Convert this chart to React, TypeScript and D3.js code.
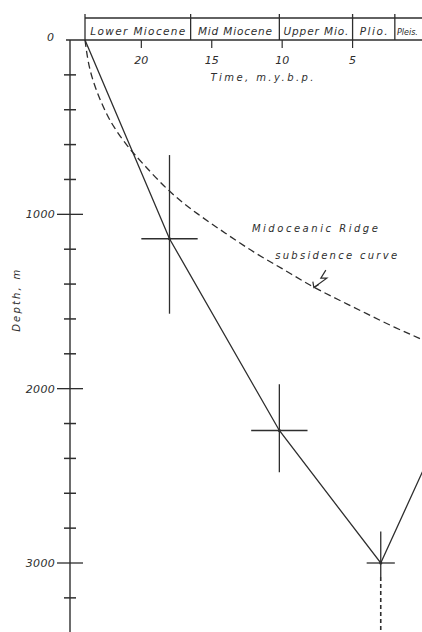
import React from "react";
import * as d3 from "d3";

// ---- data ----
const periodNames = ["Lower Miocene", "Mid Miocene", "Upper Mio.", "Plio.", "Pleis."];
const periodStarts = [24, 16.5, 10.2, 5, 2];
const periodEnds = [16.5, 10.2, 5, 2, 0];

const timeTicks = [20, 15, 10, 5];
const depthMajorTicks = [0, 1000, 2000, 3000];
const depthMinorTicks = [200, 400, 600, 800, 1200, 1400, 1600, 1800, 2200, 2400, 2600, 2800, 3200, 3400];

// observed subsidence path (solid line)
const pathTimes = [24, 18, 10.2, 3, 0];
const pathDepths = [0, 1140, 2240, 3000, 2470];

// crosshair points with error bars
const ptTimes = [18, 10.2, 3];
const ptDepths = [1140, 2240, 3000];
const ptTimeErr = [2, 2, 1];
const ptDepthLow = [660, 1975, 2820];
const ptDepthHigh = [1570, 2480, 3080];
const ptDashedTo = [null, null, 3420];

// mid-oceanic ridge subsidence curve (dashed)
const ridgeTimes = [24, 23.8, 23.5, 23, 22.5, 22, 21, 20, 18, 16, 14, 12, 10, 8, 6, 4, 2, 0];
const ridgeDepths = [0, 120, 220, 330, 420, 495, 610, 700, 875, 1000, 1110, 1220, 1310, 1410, 1490, 1570, 1650, 1720];

const W = 422;
const H = 632;
const INK = "#2e2e2e";
const FONT = "'DejaVu Sans', 'Liberation Sans', sans-serif";

export default function App() {
  const x = d3.scaleLinear().domain([24, 0]).range([85, 423]);
  const y = d3.scaleLinear().domain([0, 3000]).range([40, 563]);
  const axisX = 70;

  const solid = d3
    .line<number>()
    .x((_, i) => x(pathTimes[i]))
    .y((_, i) => y(pathDepths[i]))(pathTimes);

  const ridge = d3
    .line<number>()
    .x((_, i) => x(ridgeTimes[i]))
    .y((_, i) => y(ridgeDepths[i]))
    .curve(d3.curveBasis)(ridgeTimes);

  const txt = {
    fontFamily: FONT,
    fontStyle: "italic" as const,
    fill: INK,
  };

  // annotation anchors (data space)
  const a1x = x(12.15), a1y = y(1100);
  const a2x = x(10.5), a2y = y(1255);
  const arrowTop = { x: x(6.9), y: y(1320) };
  const arrowTip = { x: x(7.75), y: y(1420) };

  const periodWidths = [95, 74, 65, 28, 21];
  const periodShift = [0, 0, 0, 0, -1];

  return (
    <svg
      width={W}
      height={H}
      style={{ position: "absolute", left: 0, top: 0, background: "#fff" }}
    >
      <rect x={0} y={0} width={W} height={H} fill="#fff" />

      {/* period box */}
      <line x1={x(24)} x2={W} y1={18} y2={18} stroke={INK} strokeWidth={1.3} />
      {periodStarts.map((s, i) => (
        <line key={"pd" + i} x1={x(s)} x2={x(s)} y1={14} y2={40} stroke={INK} strokeWidth={1.3} />
      ))}
      {periodNames.map((n, i) => {
        const cx = (x(periodStarts[i]) + Math.min(x(periodEnds[i]), W)) / 2;
        return (
          <text
            key={"pn" + i}
            x={cx + periodShift[i]}
            y={35}
            textAnchor="middle"
            fontSize={i === 4 ? 9 : 10.5}
            textLength={periodWidths[i]}
            lengthAdjust={i === 4 ? "spacingAndGlyphs" : "spacing"}
            {...txt}
          >
            {n}
          </text>
        );
      })}

      {/* time axis (top) */}
      <line x1={66} x2={W} y1={40} y2={40} stroke={INK} strokeWidth={1.4} />
      {timeTicks.map((t) => (
        <g key={"tt" + t}>
          <line x1={x(t)} x2={x(t)} y1={40} y2={48} stroke={INK} strokeWidth={1.2} />
          <text x={x(t)} y={64} textAnchor="middle" fontSize={11} {...txt}>
            {t}
          </text>
        </g>
      ))}
      <text x={262} y={81} textAnchor="middle" fontSize={10} textLength={103} lengthAdjust="spacing" {...txt}>
        Time, m.y.b.p.
      </text>

      {/* depth axis (left) */}
      <line x1={axisX} x2={axisX} y1={40} y2={H} stroke={INK} strokeWidth={1.4} />
      {depthMinorTicks.map((d) => (
        <line key={"mn" + d} x1={axisX - 6} x2={axisX + 6} y1={y(d)} y2={y(d)} stroke={INK} strokeWidth={1.5} />
      ))}
      {depthMajorTicks.map((d) => (
        <g key={"mj" + d}>
          {d > 0 && (
            <line x1={axisX - 13} x2={axisX + 13} y1={y(d)} y2={y(d)} stroke={INK} strokeWidth={1.3} />
          )}
          <text
            x={d === 0 ? 54 : 55}
            y={d === 0 ? y(d) + 1 : y(d) + 4}
            textAnchor="end"
            fontSize={11}
            letterSpacing={d === 0 ? 0 : 0.3}
            {...txt}
          >
            {d}
          </text>
        </g>
      ))}
      <text
        transform={`translate(20, ${y(1490)}) rotate(-90)`}
        textAnchor="middle"
        fontSize={10}
        letterSpacing={2.2}
        {...txt}
      >
        Depth, m
      </text>

      {/* ridge curve */}
      <path d={ridge ?? ""} fill="none" stroke={INK} strokeWidth={1.3} strokeDasharray="7,4" />

      {/* solid path */}
      <path d={solid ?? ""} fill="none" stroke={INK} strokeWidth={1.3} />

      {/* crosshairs */}
      {ptTimes.map((t, i) => (
        <g key={"pt" + i}>
          <line
            x1={x(t + ptTimeErr[i])}
            x2={x(t - ptTimeErr[i])}
            y1={y(ptDepths[i])}
            y2={y(ptDepths[i])}
            stroke={INK}
            strokeWidth={1.3}
          />
          <line
            x1={x(t)}
            x2={x(t)}
            y1={y(ptDepthLow[i])}
            y2={y(ptDepthHigh[i])}
            stroke={INK}
            strokeWidth={1.3}
          />
          {ptDashedTo[i] !== null && (
            <line
              x1={x(t)}
              x2={x(t)}
              y1={y(ptDepthHigh[i])}
              y2={y(ptDashedTo[i] as number)}
              stroke={INK}
              strokeWidth={1.6}
              strokeDasharray="4,3"
            />
          )}
          <circle cx={x(t)} cy={y(ptDepths[i])} r={1.6} fill={INK} />
        </g>
      ))}

      {/* annotation */}
      <text x={a1x} y={a1y} fontSize={10} textLength={126} lengthAdjust="spacing" {...txt}>
        Midoceanic Ridge
      </text>
      <text x={a2x} y={a2y} fontSize={10} textLength={122} lengthAdjust="spacing" {...txt}>
        subsidence curve
      </text>
      <path
        d={`M${arrowTop.x},${arrowTop.y} L${arrowTop.x - 5},${arrowTop.y + 8} L${arrowTop.x + 1},${arrowTop.y + 8} L${arrowTip.x},${arrowTip.y}`}
        fill="none"
        stroke={INK}
        strokeWidth={1.2}
      />
      <path
        d={`M${arrowTip.x - 1},${arrowTip.y - 6} L${arrowTip.x},${arrowTip.y} L${arrowTip.x + 5},${arrowTip.y - 3}`}
        fill="none"
        stroke={INK}
        strokeWidth={1.2}
      />
    </svg>
  );
}
